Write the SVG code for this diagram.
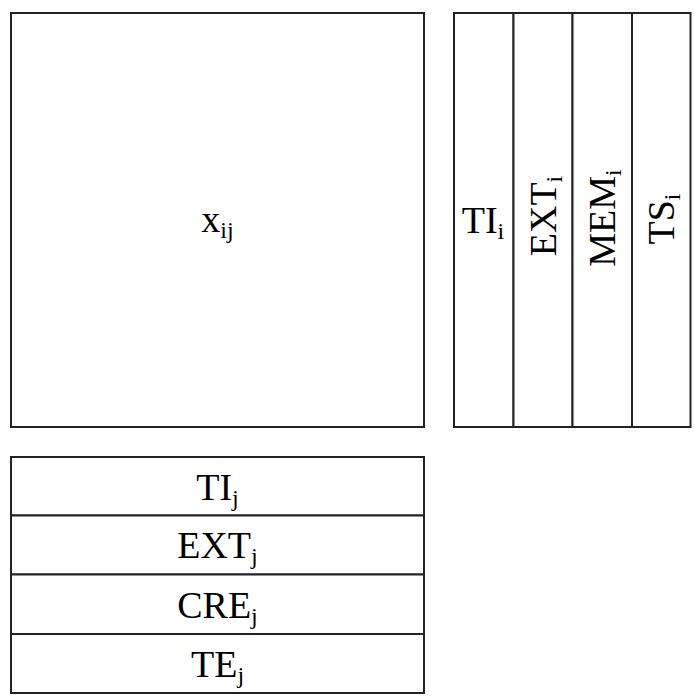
<svg xmlns="http://www.w3.org/2000/svg" width="695" height="698" viewBox="0 0 695 698">
<style>
rect{fill:#fff;stroke:#222;stroke-width:2}
text{font-family:"Liberation Serif","Times New Roman",serif;font-size:38px;fill:#000;text-anchor:middle}
.s{font-size:24px}
</style>
<rect x="0" y="0" width="695" height="698" style="stroke:none"/>
<g id="xij">
<rect x="11" y="13" width="413" height="414"/>
<text x="217.5" y="232">x<tspan class="s" dy="6">ij</tspan></text>
</g>
<g id="TIi">
<rect x="454" y="13" width="59.5" height="414"/>
<text x="483" y="233">TI<tspan class="s" dy="6">i</tspan></text>
</g>
<g id="EXTi">
<rect x="513.5" y="13" width="59" height="414"/>
<text transform="translate(556,216) rotate(-90)">EXT<tspan class="s" dy="6">i</tspan></text>
</g>
<g id="MEMi">
<rect x="572.5" y="13" width="59.5" height="414"/>
<text transform="translate(615,218) rotate(-90)">MEM<tspan class="s" dy="6">i</tspan></text>
</g>
<g id="TSi">
<rect x="632" y="13" width="58.5" height="414"/>
<text transform="translate(674,219) rotate(-90)">TS<tspan class="s" dy="6">i</tspan></text>
</g>
<g id="TIj">
<rect x="11" y="457" width="413" height="58.5"/>
<text x="217.5" y="500">TI<tspan class="s" dy="6">j</tspan></text>
</g>
<g id="EXTj">
<rect x="11" y="515.5" width="413" height="59"/>
<text x="217.5" y="558">EXT<tspan class="s" dy="6">j</tspan></text>
</g>
<g id="CREj">
<rect x="11" y="574.5" width="413" height="59.5"/>
<text x="217.5" y="618">CRE<tspan class="s" dy="6">j</tspan></text>
</g>
<g id="TEj">
<rect x="11" y="634" width="413" height="59"/>
<text x="217.5" y="677">TE<tspan class="s" dy="6">j</tspan></text>
</g>
<g id="connectors"/>
</svg>
